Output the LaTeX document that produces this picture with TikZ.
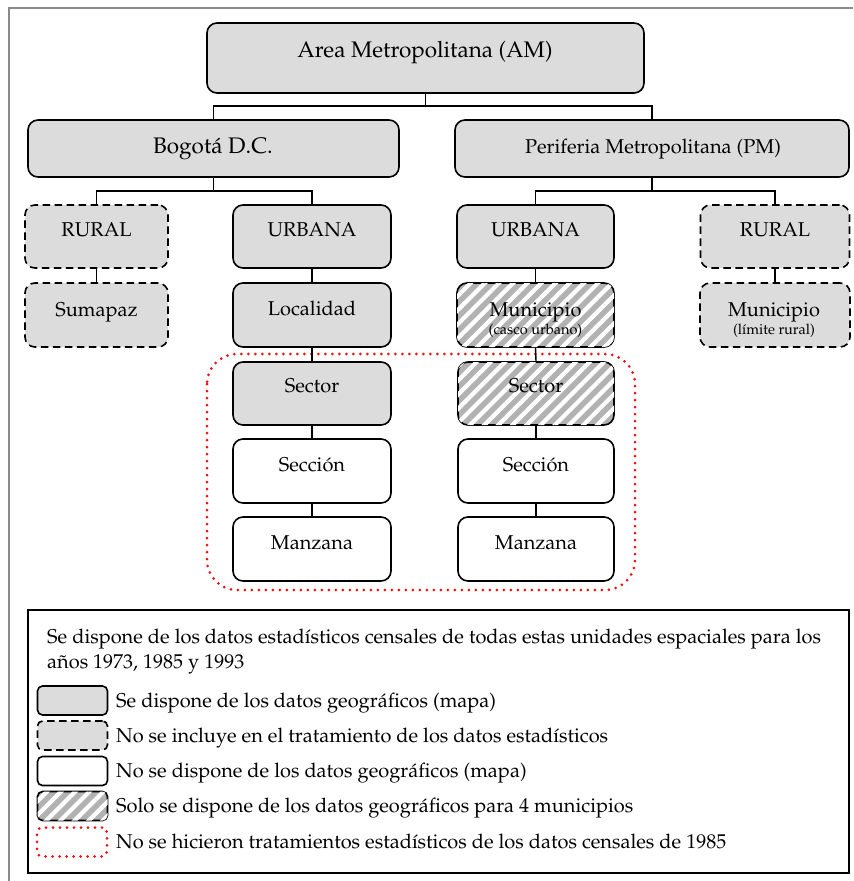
\documentclass[tikz,border=0pt]{standalone}
\usepackage[T1]{fontenc}
\usepackage{mathpazo}
\usetikzlibrary{patterns.meta,calc}
\definecolor{boxgray}{HTML}{DCDCDC}
\definecolor{hatchgray}{HTML}{B2B2B2}
\definecolor{framegray}{HTML}{8A8A8A}
\definecolor{dotred}{HTML}{F01010}
\tikzset{
  box/.style={draw, line width=1.6pt, rounded corners=10pt, fill=boxgray, inner sep=0pt},
  dbox/.style={box, dash pattern=on 7.5pt off 4.5pt},
  wbox/.style={box, fill=white},
  hbox/.style={box, fill=hatchgray, postaction={pattern={Lines[angle=45,distance=10pt,line width=4.2pt]}, pattern color=white}},
  lvl/.style={minimum width=158pt, minimum height=63pt},
  conn/.style={line width=1.4pt},
  big/.style={font=\fontsize{22.5}{26}\selectfont, anchor=base, inner sep=0pt},
  mid/.style={font=\fontsize{20}{24}\selectfont, anchor=base, inner sep=0pt},
  small/.style={font=\fontsize{14.5}{17}\selectfont, anchor=base, inner sep=0pt},
  leg/.style={font=\fontsize{20}{24}\selectfont, anchor=base west, inner sep=0pt},
  swatch/.style={line width=1.6pt, rounded corners=5pt, minimum width=70pt, minimum height=29pt, inner sep=0pt},
  reddot/.style={draw=dotred, line width=3pt, line cap=round, dash pattern=on 0pt off 7pt}
}
\begin{document}
\begin{tikzpicture}[x=1pt,y=-1pt]
\useasboundingbox (0,0) rectangle (854,881);
% outer frame
\draw[framegray, line width=2.4pt] (9,881) -- (9,8) -- (853,8);

% top levels
\node[box, minimum width=437pt, minimum height=70pt] (am) at (425.5,58) {};
\node[big] (amt) at (425,57) {Area Metropolitana (AM)};
\node[box, minimum width=371pt, minimum height=57pt] (bog) at (213.5,148.5) {};
\node[big] (bogt) at (213,153) {Bogot\'a D.C.};
\node[box, minimum width=394pt, minimum height=57pt] (pm) at (652,148.5) {};
\node[mid] (pmt) at (653,153) {Periferia Metropolitana (PM)};

% level 3
\node[dbox, minimum width=143pt, minimum height=63pt] (rurL) at (96.5,236.5) {};
\node[mid] (rurLt) at (96.5,236) {RURAL};
\node[box, lvl] (urbL) at (312,236.5) {};
\node[mid] (urbLt) at (312,236) {URBANA};
\node[box, minimum width=157pt, minimum height=63pt] (urbR) at (535.5,236.5) {};
\node[mid] (urbRt) at (535.5,236) {URBANA};
\node[dbox, minimum width=149pt, minimum height=63pt] (rurR) at (775,236.5) {};
\node[mid] (rurRt) at (775,236) {RURAL};

% level 4
\node[dbox, minimum width=143pt, minimum height=64pt] (sum) at (96.5,315) {};
\node[mid] (sumt) at (96.5,316) {Sumapaz};
\node[box, lvl, minimum height=64pt] (loc) at (312,315) {};
\node[mid] (loct) at (312,315) {Localidad};
\node[hbox, minimum width=157pt, minimum height=64pt] (munU) at (535.5,315) {};
\node[mid] (munUt) at (535.5,316) {Municipio};
\node[small] (munUs) at (535.5,334) {(casco urbano)};
\node[dbox, minimum width=150pt, minimum height=64pt] (munR) at (775,315) {};
\node[mid] (munRt) at (774,316) {Municipio};
\node[small] (munRs) at (774,334) {(l\'imite rural)};

% red dotted region
\draw[reddot, rounded corners=30pt] (207,354) rectangle (635,590);

% levels 5-7
\node[box, lvl] (secL) at (312,393.5) {};
\node[mid] (secLt) at (312,392) {Sector};
\node[wbox, lvl, minimum height=64pt] (seccL) at (312,471) {};
\node[mid] (seccLt) at (312,471) {Secci\'on};
\node[wbox, lvl, minimum height=64pt] (manL) at (312,549) {};
\node[mid] (manLt) at (312,549) {Manzana};
\node[hbox, minimum width=156pt, minimum height=63pt] (secR) at (536,393.5) {};
\node[mid] (secRt) at (536,392) {Sector};
\node[wbox, minimum width=156pt, minimum height=64pt] (seccR) at (536,471) {};
\node[mid] (seccRt) at (536,471) {Secci\'on};
\node[wbox, minimum width=156pt, minimum height=64pt] (manR) at (536,549) {};
\node[mid] (manRt) at (536,549) {Manzana};

% connectors
\draw[conn] (am.south) -- ++(0,12) coordinate (a1);
\draw[conn] (bog.north) |- (a1) -| (pm.north);
\draw[conn] (bog.south) -- ++(0,13) coordinate (b1);
\draw[conn] (rurL.north) |- (b1) -| (urbL.north);
\draw[conn] (pm.south) -- ++(0,13) coordinate (p1);
\draw[conn] (urbR.north) |- (p1) -| (rurR.north);
\draw[conn] (rurL.south) -- (sum.north);
\draw[conn] (urbL.south) -- (loc.north);
\draw[conn] (loc.south) -- (secL.north);
\draw[conn] (secL.south) -- (seccL.north);
\draw[conn] (seccL.south) -- (manL.north);
\draw[conn] (urbR.south) -- (munU.north);
\draw[conn] (munU.south) -- (secR.north);
\draw[conn] (secR.south) -- (seccR.north);
\draw[conn] (seccR.south) -- (manR.north);
\draw[conn] (rurR.south) -- (munR.north);

% legend
\node[draw, line width=1.6pt, minimum width=821pt, minimum height=263pt, inner sep=0pt] (legbox) at (438.5,741.5) {};
\node[leg] (l0) at (47,643) {Se dispone de los datos estad\'isticos censales de todas estas unidades espaciales para los};
\node[leg] (l0b) at (47,668) {a\~nos 1973, 1985 y 1993};
\node[swatch, draw, fill=boxgray] (s1) at (72.5,700.5) {};
\node[leg] (l1) at (116,707) {Se dispone de los datos geogr\'aficos (mapa)};
\node[swatch, draw, fill=boxgray, dash pattern=on 7.5pt off 4.5pt] (s2) at (72.5,735.5) {};
\node[leg] (l2) at (116,742) {No se incluye en el tratamiento de los datos estad\'isticos};
\node[swatch, draw, fill=white] (s3) at (72.5,771) {};
\node[leg] (l3) at (116,777) {No se dispone de los datos geogr\'aficos (mapa)};
\node[swatch, draw, fill=hatchgray, postaction={pattern={Lines[angle=45,distance=10pt,line width=4.2pt]}, pattern color=white}] (s4) at (72.5,806) {};
\node[leg] (l4) at (116,812) {Solo se dispone de los datos geogr\'aficos para 4 municipios};
\node[swatch, reddot] (s5) at (72,842) {};
\node[leg] (l5) at (116,848) {No se hicieron tratamientos estad\'isticos de los datos censales de 1985};
\end{tikzpicture}
\end{document}
